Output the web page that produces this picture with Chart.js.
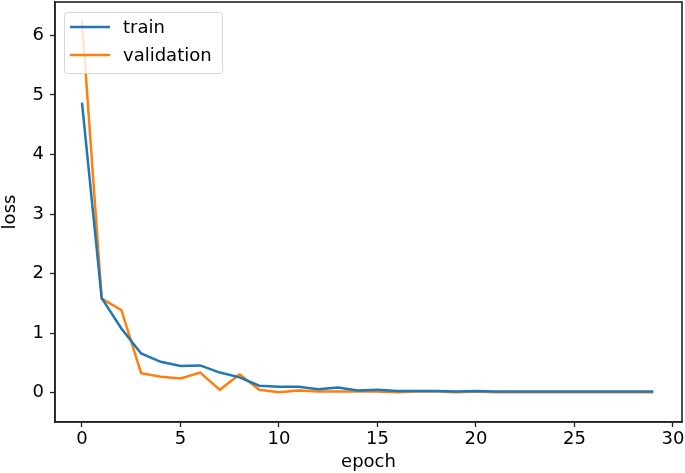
<!DOCTYPE html>
<html>
<head>
<meta charset="utf-8">
<script src="https://cdn.jsdelivr.net/npm/chart.js@4/dist/chart.umd.min.js"></script>
<style>
  html, body { margin: 0; padding: 0; background: #fff; }
  #wrap { width: 685px; height: 473px; }
</style>
</head>
<body>
<div id="wrap"><canvas id="lossChart" width="685" height="473"></canvas></div>
<script>
const epochs = [0,1,2,3,4,5,6,7,8,9,10,11,12,13,14,15,16,17,18,19,20,21,22,23,24,25,26,27,28,29];
const trainLoss = [4.87,1.59,1.08,0.66,0.52,0.45,0.46,0.34,0.26,0.12,0.10,0.10,0.06,0.09,0.04,0.05,0.03,0.03,0.03,0.02,0.03,0.02,0.02,0.02,0.02,0.02,0.02,0.02,0.02,0.02];
const valLoss = [6.25,1.58,1.39,0.33,0.27,0.24,0.34,0.05,0.31,0.05,0.01,0.04,0.02,0.02,0.02,0.02,0.01,0.02,0.02,0.01,0.02,0.01,0.01,0.01,0.01,0.01,0.01,0.01,0.01,0.01];
const xTicks = [0,5,10,15,20,25,30];
const yTicks = [0,1,2,3,4,5,6];

const FONT = 'DejaVu Sans';

const frame = {
  id: 'frame',
  afterDatasetsDraw(chart) {
    const {ctx, chartArea: a} = chart;
    ctx.save();
    ctx.strokeStyle = '#222';
    ctx.lineWidth = 1.6;
    ctx.strokeRect(a.left, a.top, a.right - a.left, a.bottom - a.top);
    ctx.restore();
  },
  afterDraw(chart) {
    // legend box in the upper left corner of the axes
    const {ctx, chartArea: a} = chart;
    const x = a.left + 9, y = a.top + 10;
    ctx.save();
    ctx.fillStyle = 'rgba(255,255,255,0.8)';
    ctx.strokeStyle = '#d6d6d6';
    ctx.lineWidth = 1;
    ctx.beginPath();
    ctx.roundRect(x + 0.5, y + 0.5, 158, 61, 3);
    ctx.fill();
    ctx.stroke();
    ctx.font = '18px ' + FONT;
    ctx.textBaseline = 'middle';
    chart.data.datasets.forEach((ds, i) => {
      const ly = y + 15 + i * 28;
      ctx.strokeStyle = ds.borderColor;
      ctx.lineWidth = 2.5;
      ctx.beginPath();
      ctx.moveTo(x + 6, ly);
      ctx.lineTo(x + 46, ly);
      ctx.stroke();
      ctx.fillStyle = '#000';
      ctx.fillText(ds.label, x + 59, ly + 1);
    });
    ctx.restore();
  }
};

new Chart(document.getElementById('lossChart'), {
  type: 'line',
  data: {
    datasets: [
      {
        label: 'train',
        data: epochs.map((e, i) => ({x: e, y: trainLoss[i]})),
        borderColor: '#1f77b4',
        borderWidth: 2.5,
        pointRadius: 0,
        tension: 0
      },
      {
        label: 'validation',
        data: epochs.map((e, i) => ({x: e, y: valLoss[i]})),
        borderColor: '#ff7f0e',
        borderWidth: 2.5,
        pointRadius: 0,
        tension: 0
      }
    ]
  },
  options: {
    responsive: false,
    animation: false,
    layout: { padding: { top: 2, right: 3, left: 0, bottom: 0 } },
    plugins: {
      legend: { display: false },
      tooltip: { enabled: false }
    },
    scales: {
      x: {
        type: 'linear',
        min: -1.37,
        max: 30.46,
        afterBuildTicks: (s) => { s.ticks = xTicks.map(v => ({value: v})); },
        afterFit: (s) => { s.height = 51; s.paddingLeft = 0; s.paddingRight = 0; },
        grid: { drawOnChartArea: false, drawTicks: true, tickLength: 5, tickWidth: 1.3, color: '#222' },
        border: { display: true, color: '#222', width: 1.6 },
        ticks: { color: '#000', font: { family: FONT, size: 18 }, padding: 2, maxRotation: 0 },
        title: { display: true, text: 'epoch', color: '#000', font: { family: FONT, size: 18 }, padding: { top: 0, bottom: 0 } }
      },
      y: {
        min: -0.49,
        max: 6.56,
        afterBuildTicks: (s) => { s.ticks = yTicks.map(v => ({value: v})); },
        afterFit: (s) => { s.width = 55; s.paddingTop = 0; s.paddingBottom = 0; },
        grid: { drawOnChartArea: false, drawTicks: true, tickLength: 5, tickWidth: 1.3, color: '#222' },
        border: { display: true, color: '#222', width: 1.6 },
        ticks: { color: '#000', font: { family: FONT, size: 18 }, padding: 6 },
        title: { display: true, text: 'loss', color: '#000', font: { family: FONT, size: 18 }, padding: { top: 0, bottom: 0 } }
      }
    }
  },
  plugins: [frame]
});
</script>
</body>
</html>
